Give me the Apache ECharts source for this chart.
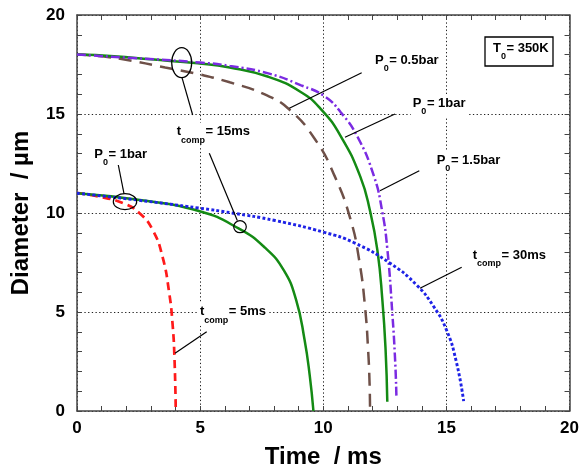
<!DOCTYPE html>
<html><head><meta charset="utf-8">
<script src="https://cdn.jsdelivr.net/npm/echarts@6/dist/echarts.min.js"></script>
<style>html,body{margin:0;padding:0;background:#fff}#c{width:582px;height:475px}</style>
</head><body><div id="c"></div>
<script>
// ---- data (time in ms, diameter in µm) ----
const p05bar = [[0,18],[1.1,17.9],[2.24,17.68],[3.58,17.35],[4.9,17.02],[6.2,16.6],[7.6,16.0],[8.6,15.25],[9.65,13.75],[10.45,11.9],[11.1,9.7],[11.46,7.6],[11.7,5.2],[11.82,3.1],[11.88,1.4],[11.9,0]];
const p1bar = [[0,18],[1.5,17.92],[3,17.76],[4.9,17.56],[6.2,17.35],[7.77,16.88],[9.1,16.1],[9.9,15.25],[10.7,13.9],[11.5,11.85],[11.9,10.1],[12.2,8.1],[12.4,5.6],[12.53,3.1],[12.6,0.47]];
const p15bar = [[0,18],[2.24,17.83],[5,17.6],[6.2,17.43],[7.77,17.05],[9.1,16.45],[10.05,15.9],[10.7,15.1],[11.39,13.85],[12.06,11.85],[12.39,10.1],[12.6,8.2],[12.8,5.0],[12.92,2.5],[12.97,0.72]];
const tcomp5 = [[0,11],[0.8,10.85],[1.86,10.5],[2.53,10.0],[3.07,9.15],[3.47,7.8],[3.74,6.0],[3.88,4.4],[3.96,2.6],[4.01,0]];
const tcomp15 = [[0,11],[2.4,10.68],[4.95,10.1],[6.56,9.22],[7.63,8.25],[8.4,7.1],[8.9,5.6],[9.24,3.6],[9.45,1.8],[9.6,0]];
const tcomp30 = [[0,11],[2.4,10.66],[4.95,10.25],[6.3,10.0],[8.04,9.62],[10.05,9.02],[11.25,8.5],[12.73,7.45],[13.8,6.35],[14.47,5.3],[15.0,4.1],[15.4,2.5],[15.7,0.5]];
const xRange = [0, 20];
const yRange = [0, 20];
const tickStep = 5;
const xTitle = 'Time  / ms';
const yTitle = 'Diameter  / µm';

const FF = '"Liberation Sans", Arial, sans-serif';
const ctx = document.createElement('canvas').getContext('2d');
function tw(t, f){ ctx.font = f; return ctx.measureText(t).width; }

function subLabel(x, y, main, sub, rest, bg){
  const f1 = 'bold 13px ' + FF, f2 = 'bold 9px ' + FF;
  const w1 = tw(main, f1), w2 = tw(sub, f2), w3 = tw(rest, f1);
  const els = [];
  if (bg) els.push({type:'rect', z:100, shape:{x:x-2, y:y-9, width:w1+w2+w3+4, height:23}, style:{fill:'#fff'}});
  els.push({type:'text', z:101, x:x, y:y, style:{text:main, font:f1, fill:'#000', verticalAlign:'middle'}});
  els.push({type:'text', z:101, x:x+w1, y:y+8.5, style:{text:sub, font:f2, fill:'#000', verticalAlign:'middle'}});
  els.push({type:'text', z:101, x:x+w1+w2+0.5, y:y, style:{text:rest, font:f1, fill:'#000', verticalAlign:'middle'}});
  return els;
}
function seg(x1,y1,x2,y2){ return {type:'line', z:102, shape:{x1,y1,x2,y2}, style:{stroke:'#000', lineWidth:1.2}}; }
function ell(cx,cy,rx,ry){ return {type:'ellipse', z:102, shape:{cx,cy,rx,ry}, style:{stroke:'#000', fill:null, lineWidth:1.2}}; }

const graphics = [].concat(
  [{type:'rect', z:100, shape:{x:485, y:37, width:68, height:29}, style:{fill:'#fff', stroke:'#000', lineWidth:1.3}}],
  subLabel(493, 48.5, 'T', '0', '= 350K', false),
  subLabel(375, 60, 'P', '0', '= 0.5bar', true),
  subLabel(412.7, 103.3, 'P', '0', '= 1bar', true),
  subLabel(436.7, 160, 'P', '0', '= 1.5bar', true),
  subLabel(176.7, 131.7, 't', 'comp', '= 15ms', true),
  subLabel(94.3, 154, 'P', '0', '= 1bar', true),
  subLabel(200, 311.7, 't', 'comp', '= 5ms', true),
  subLabel(472.7, 255, 't', 'comp', '= 30ms', true),
  [
    seg(361.7,72.7,289.3,108.3),
    seg(395,114,345,137.3),
    seg(419.3,170.7,380,190.7),
    ell(181.7,62.7,10,15), seg(182,77.7,192.7,115),
    seg(209.3,153.3,237.3,220.5), ell(240,226.7,6.3,6),
    seg(118.3,165,124,193.7), ell(125,201.7,11.7,8),
    seg(206.7,331.7,175,353.3),
    seg(461.7,267.3,420,288.3)
  ]
);

const axisCol = '#444';
function mkAxis(pos, isX, main){
  return {
    type:'value', position:pos, min:(isX?xRange:yRange)[0], max:(isX?xRange:yRange)[1], interval:tickStep,
    axisLine:{show:true, onZero:false, lineStyle:{color:axisCol, width:1.5}},
    axisTick:{show:true, inside:true, length:5, lineStyle:{color:axisCol, width:1}},
    minorTick:{show:true, splitNumber:5, length:5, lineStyle:{color:axisCol, width:1}},
    axisLabel:{show:main, color:'#000', fontSize:17, fontWeight:'bold', fontFamily:FF, margin:isX?9:12},
    splitLine:{show:main, lineStyle:{color:'#222', width:1, type:[1.3,2.4]}},
    name: main ? (isX?xTitle:yTitle) : '',
    nameLocation:'middle', nameGap: isX?34:44,
    nameTextStyle:{fontSize:24, fontWeight:'bold', color:'#000', fontFamily:FF}
  };
}

function line(data, color, type, width){
  return {type:'line', data:data, showSymbol:false, symbol:'none', smooth:0.5,
    lineStyle:{color:color, width:width, type:type}, xAxisIndex:0, yAxisIndex:0, silent:true, animation:false};
}

const chart = echarts.init(document.getElementById('c'), null, {renderer:'canvas'});
chart.setOption({
  animation:false,
  backgroundColor:'#fff',
  grid:{left:77, right:8, top:15, bottom:64, containLabel:false},
  xAxis:[mkAxis('bottom', true, true), mkAxis('top', true, false)],
  yAxis:[mkAxis('left', false, true), mkAxis('right', false, false)],
  series:[
    line(p05bar, '#6E5048', [13,8], 2.5),
    line(p1bar, '#148A14', 'solid', 2.5),
    line(p15bar, '#7B2BE2', [9,3,2,3], 2.5),
    line(tcomp5, '#FF1A1A', [8,5], 2.7),
    line(tcomp15, '#148A14', 'solid', 2.5),
    line(tcomp30, '#1E22E6', [3,2.2], 2.9)
  ],
  graphic: graphics
});
</script></body></html>
